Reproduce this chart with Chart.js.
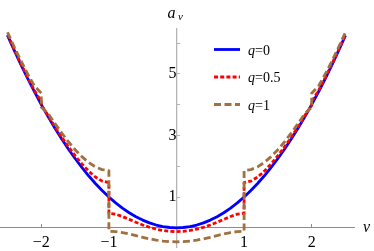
<!DOCTYPE html>
<html lang="en">
<head>
<meta charset="UTF-8">
<title>Mathieu characteristic value a_v</title>
<style>
  html, body { margin: 0; padding: 0; background: #fff; }
  #wrap { width: 374px; height: 251px; }
</style>
</head>
<body>
<div id="wrap"><canvas id="myChart" width="374" height="251"></canvas></div>

<script src="https://cdn.jsdelivr.net/npm/chart.js@4/dist/chart.umd.min.js"></script>
<script>
// order of the characteristic exponent (duplicates at the band edges give the jumps)
var nu = [-2.5, -2.4, -2.3, -2.2, -2.1, -2, -2, -1.9, -1.8, -1.7, -1.6, -1.5, -1.4, -1.3, -1.2, -1.1, -1, -1,
          -0.9, -0.8, -0.7, -0.6, -0.5, -0.4, -0.3, -0.2, -0.1, 0, 0.1, 0.2, 0.3, 0.4, 0.5, 0.6, 0.7, 0.8, 0.9,
          1, 1, 1.1, 1.2, 1.3, 1.4, 1.5, 1.6, 1.7, 1.8, 1.9, 2, 2, 2.1, 2.2, 2.3, 2.4, 2.5];

// q = 0
var aQ0 = [6.25, 5.76, 5.29, 4.84, 4.41, 4, 4, 3.61, 3.24, 2.89, 2.56, 2.25, 1.96, 1.69, 1.44, 1.21, 1, 1,
           0.81, 0.64, 0.49, 0.36, 0.25, 0.16, 0.09, 0.04, 0.01, 0, 0.01, 0.04, 0.09, 0.16, 0.25, 0.36, 0.49, 0.64, 0.81,
           1, 1, 1.21, 1.44, 1.69, 1.96, 2.25, 2.56, 2.89, 3.24, 3.61, 4, 4, 4.41, 4.84, 5.29, 5.76, 6.25];

// q = 0.5
var aQ05 = [6.274, 5.787, 5.320, 4.874, 4.450, 4.101, 3.979, 3.651, 3.291, 2.951, 2.634, 2.341, 2.075, 1.841, 1.649, 1.516, 1.467, 0.471,
            0.442, 0.367, 0.275, 0.180, 0.092, 0.017, -0.043, -0.086, -0.113, -0.122, -0.113, -0.086, -0.043, 0.017, 0.092, 0.180, 0.275, 0.367, 0.442,
            0.471, 1.467, 1.516, 1.649, 1.841, 2.075, 2.341, 2.634, 2.951, 3.291, 3.651, 3.979, 4.101, 4.450, 4.874, 5.320, 5.787, 6.274];

// q = 1
var aQ1 = [6.349, 5.871, 5.416, 4.988, 4.600, 4.371, 3.917, 3.711, 3.393, 3.085, 2.796, 2.537, 2.311, 2.123, 1.978, 1.890, 1.859, -0.110,
           -0.123, -0.154, -0.200, -0.253, -0.307, -0.357, -0.398, -0.430, -0.449, -0.455, -0.449, -0.430, -0.398, -0.357, -0.307, -0.253, -0.200, -0.154, -0.123,
           -0.110, 1.859, 1.890, 1.978, 2.123, 2.311, 2.537, 2.796, 3.085, 3.393, 3.711, 3.917, 4.371, 4.600, 4.988, 5.416, 5.871, 6.349];

var seriesLabels = ['q=0', 'q=0.5', 'q=1'];

var xTickValues = [-2, -1, 1, 2];
var xTickLabels = ['\u22122', '\u22121', '1', '2'];
var yTickValues = [1, 2, 3, 4, 5, 6];
var yTickLabels = ['1', '', '3', '', '5', ''];

var serif = '"Liberation Serif", "DejaVu Serif", serif';

function toPoints(ys) {
    return nu.map(function (v, i) { return { x: v, y: ys[i] }; });
}

function noScalePadding(scale) {
    scale.paddingTop = 0;
    scale.paddingBottom = 0;
    scale.paddingLeft = 0;
    scale.paddingRight = 0;
}

// legend and axis names, drawn on top of the plot
var annotations = {
    id: 'annotations',
    afterDraw: function (chart) {
        var ctx = chart.ctx;
        var xs = chart.scales.x, ys = chart.scales.y;
        var x0 = xs.getPixelForValue(0), y0 = ys.getPixelForValue(0);

        ctx.save();
        ctx.fillStyle = '#000';
        ctx.textBaseline = 'alphabetic';

        // a_nu at the top of the vertical axis
        ctx.font = 'italic 16px ' + serif;
        ctx.fillText('a', x0 - 9, chart.chartArea.top - 11);
        ctx.font = 'italic 11px ' + serif;
        ctx.fillText('\u03bd', x0 + 1.5, chart.chartArea.top - 9);

        // nu at the end of the horizontal axis
        ctx.font = 'italic 16px ' + serif;
        ctx.fillText('\u03bd', chart.chartArea.right + 9, y0 + 4);

        // legend
        chart.data.datasets.forEach(function (ds, i) {
            var ly = 49.5 + i * 27.5;
            ctx.save();
            ctx.strokeStyle = ds.borderColor;
            ctx.lineWidth = ds.borderWidth;
            ctx.setLineDash(ds.borderDash || []);
            ctx.beginPath();
            ctx.moveTo(214, ly);
            ctx.lineTo(240, ly);
            ctx.stroke();
            ctx.restore();

            var parts = ds.label.split('=');
            ctx.font = 'italic 14px ' + serif;
            ctx.fillText(parts[0], 248, ly + 5);
            var w = ctx.measureText(parts[0]).width;
            ctx.font = '14px ' + serif;
            ctx.fillText('=' + parts[1], 248 + w, ly + 5);
        });
        ctx.restore();
    }
};

new Chart(document.getElementById('myChart'), {
    type: 'line',
    data: {
        datasets: [
            { label: seriesLabels[0], data: toPoints(aQ0), borderColor: '#0000ff', borderWidth: 2.8, order: 3 },
            { label: seriesLabels[1], data: toPoints(aQ05), borderColor: '#ff0000', borderWidth: 2.8, borderDash: [4, 2.2], order: 2 },
            { label: seriesLabels[2], data: toPoints(aQ1), borderColor: '#a0703f', borderWidth: 2.8, borderDash: [7, 3.5], order: 1 }
        ]
    },
    options: {
        responsive: false,
        devicePixelRatio: 1,
        animation: false,
        events: [],
        layout: { padding: { left: 0, right: 20, top: 29, bottom: 4 } },
        elements: {
            point: { radius: 0 },
            line: { tension: 0, fill: false, borderCapStyle: 'butt', borderJoinStyle: 'round' }
        },
        datasets: { line: { clip: false } },
        plugins: {
            legend: { display: false },
            tooltip: { enabled: false }
        },
        scales: {
            x: {
                type: 'linear',
                min: -2.611,
                max: 2.626,
                position: { y: 0 },
                border: { display: true, color: '#8c8c8c', width: 1 },
                grid: { drawOnChartArea: false, drawTicks: true, tickLength: -4, color: '#8c8c8c' },
                afterBuildTicks: function (s) { s.ticks = xTickValues.map(function (v) { return { value: v }; }); },
                afterFit: noScalePadding,
                ticks: {
                    autoSkip: false,
                    maxRotation: 0,
                    padding: 9,
                    color: '#000',
                    font: { family: serif, size: 16 },
                    callback: function (v) { return xTickLabels[xTickValues.indexOf(v)]; }
                }
            },
            y: {
                type: 'linear',
                min: -0.623,
                max: 6.455,
                position: { x: 0 },
                border: { display: true, color: '#b4b4b4', width: 1.3 },
                grid: { drawOnChartArea: false, drawTicks: true, tickLength: -4, color: '#b4b4b4' },
                afterBuildTicks: function (s) { s.ticks = yTickValues.map(function (v) { return { value: v }; }); },
                afterFit: noScalePadding,
                ticks: {
                    autoSkip: false,
                    padding: 8.5,
                    color: '#000',
                    font: { family: serif, size: 16 },
                    callback: function (v) { return yTickLabels[yTickValues.indexOf(v)]; }
                }
            }
        }
    },
    plugins: [annotations]
});
</script>
</body>
</html>
